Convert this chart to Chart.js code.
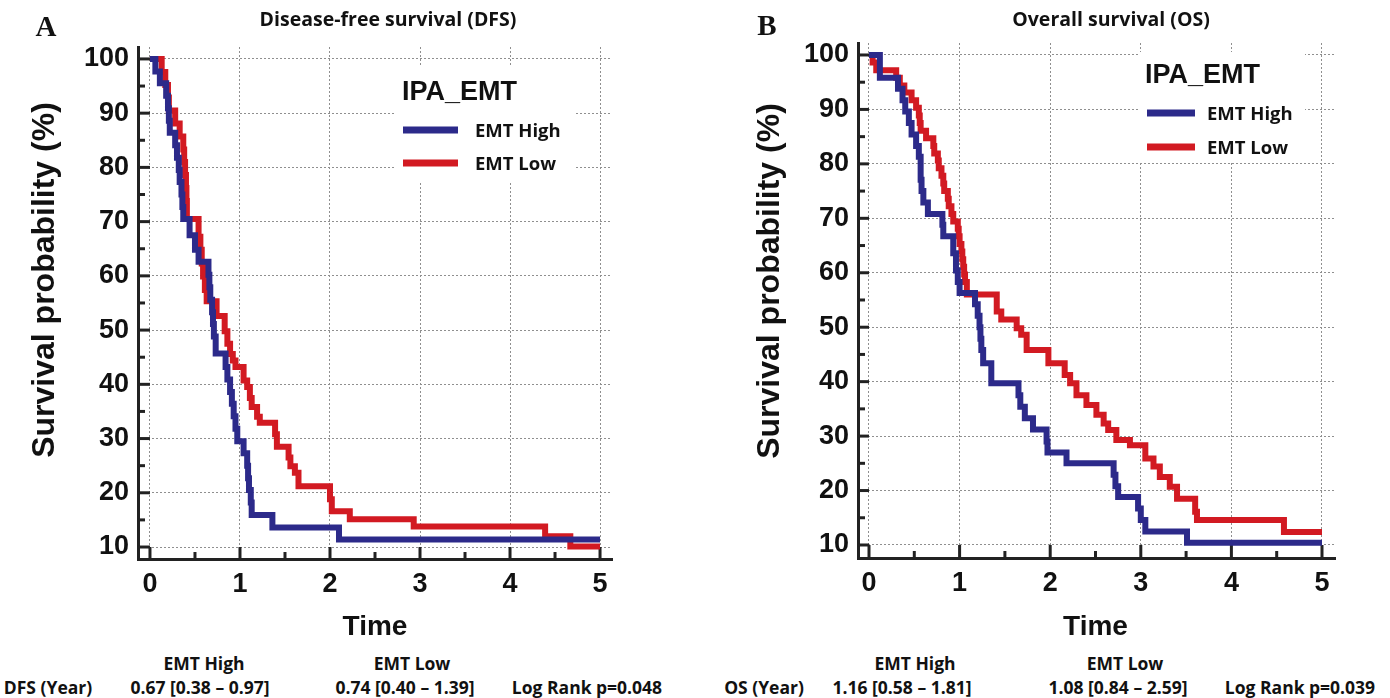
<!DOCTYPE html>
<html>
<head>
<meta charset="utf-8">
<script src="https://cdn.jsdelivr.net/npm/chart.js@4.4.1/dist/chart.umd.min.js"></script>
<style>
html,body{margin:0;padding:0;background:#fff;width:1390px;height:698px;overflow:hidden;}
#wrap{position:relative;width:1390px;height:698px;}
#wrap canvas{position:absolute;top:0;}
.t{position:absolute;font-family:'Open Sans','Liberation Sans',sans-serif;font-weight:700;font-size:17.5px;color:#111;white-space:nowrap;transform:translate(-50%,-50%);line-height:1;}
</style>
</head>
<body>
<div id="wrap">
  <canvas id="cA" width="695" height="640" style="left:0px"></canvas>
  <canvas id="cB" width="695" height="640" style="left:695px"></canvas>
</div>
<script>
// ---------- data ----------
const timeTicks = [0, 1, 2, 3, 4, 5];
const timeMinorTicks = [0.5, 1.5, 2.5, 3.5, 4.5];
const survTicks = [10, 20, 30, 40, 50, 60, 70, 80, 90, 100];
const survMinorTicks = [15, 25, 35, 45, 55, 65, 75, 85, 95];
const groupLabels = ['EMT High', 'EMT Low'];
const legendTitle = 'IPA_EMT';

// Disease-free survival, EMT High
const dfsHighTime = [0, 0.06, 0.11, 0.18, 0.20, 0.21, 0.22, 0.28, 0.30, 0.32, 0.33, 0.35, 0.36, 0.37, 0.44, 0.50, 0.54, 0.65, 0.66, 0.67, 0.69, 0.70, 0.71, 0.73, 0.84, 0.86, 0.89, 0.91, 0.93, 0.95, 0.97, 1.04, 1.08, 1.09, 1.10, 1.12, 1.13, 1.36, 2.10, 5.00];
const dfsHighSurv = [100, 97.7, 95.5, 93.2, 90.9, 88.6, 86.4, 84.1, 81.8, 79.5, 77.3, 75.0, 72.7, 70.5, 67.5, 64.8, 62.6, 60.2, 57.9, 55.6, 53.3, 51.1, 48.8, 45.7, 43.2, 40.9, 38.6, 36.4, 34.1, 31.8, 29.5, 27.3, 25.0, 22.7, 20.5, 18.2, 15.9, 13.6, 11.4, 11.4];
// Disease-free survival, EMT Low
const dfsLowTime = [0, 0.13, 0.17, 0.20, 0.21, 0.28, 0.33, 0.37, 0.38, 0.39, 0.40, 0.405, 0.41, 0.54, 0.56, 0.575, 0.59, 0.61, 0.63, 0.74, 0.83, 0.86, 0.89, 0.92, 0.95, 1.04, 1.08, 1.11, 1.13, 1.19, 1.22, 1.39, 1.41, 1.54, 1.56, 1.61, 1.65, 2.00, 2.02, 2.22, 2.93, 4.39, 4.67, 5.00];
const dfsLowSurv = [100, 97.6, 95.2, 92.9, 90.5, 88.1, 85.7, 83.3, 81.0, 78.6, 76.2, 73.8, 70.5, 67.2, 64.8, 62.3, 59.9, 57.4, 55.3, 52.6, 49.8, 47.5, 45.6, 44.4, 43.2, 40.7, 39.5, 37.5, 35.8, 34.0, 32.9, 30.8, 28.5, 26.5, 24.9, 23.7, 21.2, 18.8, 16.6, 15.1, 13.8, 12.0, 10.1, 10.1];
// Overall survival, EMT High
const osHighTime = [0, 0.12, 0.32, 0.37, 0.40, 0.44, 0.47, 0.52, 0.55, 0.57, 0.58, 0.60, 0.65, 0.81, 0.82, 0.93, 0.96, 0.98, 1.00, 1.17, 1.20, 1.22, 1.23, 1.24, 1.26, 1.35, 1.65, 1.67, 1.72, 1.81, 1.96, 1.97, 2.18, 2.70, 2.72, 2.75, 2.97, 3.00, 3.05, 3.51, 5.00];
const osHighSurv = [100, 95.8, 93.8, 91.7, 89.6, 87.5, 85.4, 83.3, 81.3, 77.1, 75.0, 72.9, 70.8, 68.8, 66.7, 63.6, 60.4, 58.3, 56.3, 54.2, 52.1, 50.0, 47.9, 45.8, 43.4, 39.7, 37.5, 35.4, 33.3, 31.2, 29.0, 27.0, 25.0, 22.9, 20.8, 18.8, 16.7, 14.6, 12.5, 10.4, 10.4];
// Overall survival, EMT Low
const osLowTime = [0, 0.04, 0.08, 0.30, 0.34, 0.39, 0.47, 0.52, 0.55, 0.56, 0.57, 0.63, 0.71, 0.72, 0.76, 0.77, 0.80, 0.82, 0.83, 0.87, 0.88, 0.91, 0.93, 0.98, 0.99, 1.00, 1.02, 1.03, 1.04, 1.05, 1.06, 1.08, 1.41, 1.46, 1.63, 1.68, 1.74, 1.98, 2.16, 2.22, 2.29, 2.40, 2.51, 2.59, 2.64, 2.73, 2.88, 3.05, 3.14, 3.21, 3.32, 3.40, 3.60, 3.62, 4.58, 5.00];
const osLowSurv = [100, 98.6, 97.2, 95.8, 94.4, 93.1, 91.7, 90.3, 88.9, 87.5, 86.1, 84.7, 83.3, 81.9, 80.6, 79.2, 77.8, 76.4, 75.0, 73.6, 72.2, 70.8, 69.4, 68.1, 66.7, 65.3, 63.9, 62.5, 61.1, 59.7, 58.3, 56.0, 52.9, 51.4, 49.8, 48.6, 45.8, 43.4, 41.2, 39.7, 37.5, 35.7, 33.9, 32.3, 31.1, 29.3, 28.3, 25.9, 24.4, 22.5, 20.7, 18.5, 16.1, 14.6, 12.4, 12.4];

// summary table under the plots
const summaryHeader = ['EMT High', 'EMT Low'];
const dfsSummary = ['DFS (Year)', '0.67 [0.38 \u2013 0.97]', '0.74 [0.40 \u2013 1.39]', 'Log Rank p=0.048'];
const osSummary = ['OS (Year)', '1.16 [0.58 \u2013 1.81]', '1.08 [0.84 \u2013 2.59]', 'Log Rank p=0.039'];

// ---------- style ----------
const BLUE = '#2c2a8a';
const RED = '#d21a22';
const AXIS = '#222222';
const SANS = '"Liberation Sans", Arial, Helvetica, sans-serif';
const CALI = '"Open Sans", "Liberation Sans", sans-serif';
const SERIF = '"Liberation Serif", "Times New Roman", serif';

function pts(ts, ss) { return ts.map((t, i) => ({x: t, y: ss[i]})); }

const kmDecor = {
  id: 'kmDecor',
  beforeDatasetsDraw(chart, args, o) {
    const {ctx, chartArea: a, scales: {x, y}} = chart;
    ctx.save();
    ctx.strokeStyle = AXIS;
    ctx.lineWidth = 3;
    ctx.lineCap = 'butt';
    const x0 = x.getPixelForValue(0);
    const y10 = y.getPixelForValue(10);
    const seg = (x1, y1, x2, y2) => { ctx.beginPath(); ctx.moveTo(x1, y1); ctx.lineTo(x2, y2); ctx.stroke(); };
    survTicks.forEach(v => { const p = y.getPixelForValue(v); seg(a.left, p, x0, p); });
    survMinorTicks.forEach(v => { const p = y.getPixelForValue(v); seg(a.left, p, a.left + 7, p); });
    timeTicks.forEach(v => { const p = x.getPixelForValue(v); seg(p, a.bottom, p, y10); });
    timeMinorTicks.forEach(v => { const p = x.getPixelForValue(v); seg(p, a.bottom, p, a.bottom - 7); });

    // legend
    const L = o.legend;
    ctx.fillStyle = '#fff';
    ctx.fillRect(L.box[0], L.box[1], L.box[2], L.box[3]);
    ctx.fillStyle = '#111';
    ctx.font = 'bold 27px ' + SANS;
    ctx.textAlign = 'left';
    ctx.textBaseline = 'middle';
    ctx.fillText(legendTitle, L.titleX, L.titleY);
    chart.data.datasets.forEach((ds, i) => {
      ctx.strokeStyle = ds.borderColor;
      ctx.lineWidth = 7;
      seg(L.lineX1, L.rows[i], L.lineX2, L.rows[i]);
      ctx.fillStyle = '#111';
      ctx.font = '700 18.5px ' + CALI;
      ctx.fillText(ds.label, L.textX, L.rows[i] + 2);
    });
    ctx.restore();
  },
  afterDraw(chart, args, o) {
    const {ctx, chartArea: a, scales: {x, y}} = chart;
    ctx.save();
    ctx.fillStyle = '#111';
    ctx.textAlign = 'center';
    ctx.textBaseline = 'middle';
    // panel letter
    ctx.font = 'bold 29px ' + SERIF;
    ctx.fillText(o.letter, o.letterX, o.letterY);
    // title
    ctx.font = '700 19.5px ' + CALI;
    ctx.fillText(o.title, o.titleX, o.titleY);
    // x title
    ctx.font = 'bold 28px ' + SANS;
    const cx = (x.getPixelForValue(0) + x.getPixelForValue(5)) / 2;
    ctx.fillText('Time', cx, o.xTitleY);
    // y title
    ctx.translate(o.yTitleX, o.yTitleY);
    ctx.rotate(-Math.PI / 2);
    ctx.font = 'bold 32px ' + SANS;
    ctx.fillText('Survival probability (%)', 0, 0);
    ctx.restore();
  }
};

function makeChart(id, cfg) {
  const tickFont = {family: SANS, size: 27, weight: 'bold'};
  return new Chart(document.getElementById(id), {
    type: 'line',
    data: {
      datasets: [
        {label: groupLabels[0], data: pts(cfg.highT, cfg.highS), borderColor: BLUE, backgroundColor: BLUE},
        {label: groupLabels[1], data: pts(cfg.lowT, cfg.lowS), borderColor: RED, backgroundColor: RED}
      ]
    },
    options: {
      responsive: false,
      animation: false,
      devicePixelRatio: 1,
      parsing: false,
      elements: {
        line: {borderWidth: 6, stepped: 'before', tension: 0, borderJoinStyle: 'miter', borderCapStyle: 'butt', fill: false},
        point: {radius: 0, hoverRadius: 0}
      },
      layout: {padding: cfg.padding},
      plugins: {
        legend: {display: false},
        title: {display: false},
        tooltip: {enabled: false},
        kmDecor: cfg.decor
      },
      scales: {
        x: {
          type: 'linear',
          min: cfg.xMin, max: cfg.xMax,
          afterBuildTicks: s => { s.ticks = timeTicks.map(v => ({value: v})); },
          afterFit: s => { s.height = 60; },
          grid: {color: '#8f8f8f', lineWidth: 1, drawTicks: false},
          border: {display: true, color: AXIS, width: 3, dash: [2, 2]},
          ticks: {font: tickFont, color: '#111', padding: 9, maxRotation: 0, autoSkip: false, callback: v => String(v)}
        },
        y: {
          type: 'linear',
          min: cfg.yMin, max: cfg.yMax,
          afterBuildTicks: s => { s.ticks = survTicks.map(v => ({value: v})); },
          afterFit: s => { s.width = 120; },
          grid: {color: '#8f8f8f', lineWidth: 1, drawTicks: false},
          border: {display: true, color: AXIS, width: 3, dash: [2, 2]},
          ticks: {font: tickFont, color: '#111', padding: 9, autoSkip: false, callback: v => String(v)}
        }
      }
    },
    plugins: [kmDecor]
  });
}

makeChart('cA', {
  highT: dfsHighTime, highS: dfsHighSurv, lowT: dfsLowTime, lowS: dfsLowSurv,
  xMin: -0.133, xMax: 5.133, yMin: 7.79, yMax: 102.2,
  padding: {left: 18, top: 47, right: 83, bottom: 21},
  decor: {
    letter: 'A', letterX: 46, letterY: 29,
    title: 'Disease-free survival (DFS)', titleX: 388, titleY: 20,
    xTitleY: 627, yTitleX: 45, yTitleY: 280,
    legend: {box: [396, 66, 179, 115], titleX: 402, titleY: 93, lineX1: 403, lineX2: 458, textX: 475, rows: [130, 163]}
  }
});

makeChart('cB', {
  highT: osHighTime, highS: osHighSurv, lowT: osLowTime, lowS: osLowSurv,
  xMin: -0.1214, xMax: 5.1435, yMin: 7.61, yMax: 102.2,
  padding: {left: 43, top: 43, right: 55, bottom: 22},
  decor: {
    letter: 'B', letterX: 72, letterY: 28,
    title: 'Overall survival (OS)', titleX: 416, titleY: 20,
    xTitleY: 627, yTitleX: 75, yTitleY: 281,
    legend: {box: [445, 52, 165, 110], titleX: 450, titleY: 76, lineX1: 452, lineX2: 500, textX: 512, rows: [113, 147]}
  }
});

// summary text under the plots
const wrap = document.getElementById('wrap');
function addText(txt, cx, cy) {
  const d = document.createElement('div');
  d.className = 't';
  d.textContent = txt;
  d.style.left = cx + 'px';
  d.style.top = cy + 'px';
  wrap.appendChild(d);
}
addText(summaryHeader[0], 204, 664);
addText(summaryHeader[1], 412, 664);
[48, 200, 405, 587].forEach((cx, i) => addText(dfsSummary[i], cx, 688));
addText(summaryHeader[0], 915, 664);
addText(summaryHeader[1], 1125, 664);
[764, 902, 1118, 1300].forEach((cx, i) => addText(osSummary[i], cx, 688));
</script>
</body>
</html>
